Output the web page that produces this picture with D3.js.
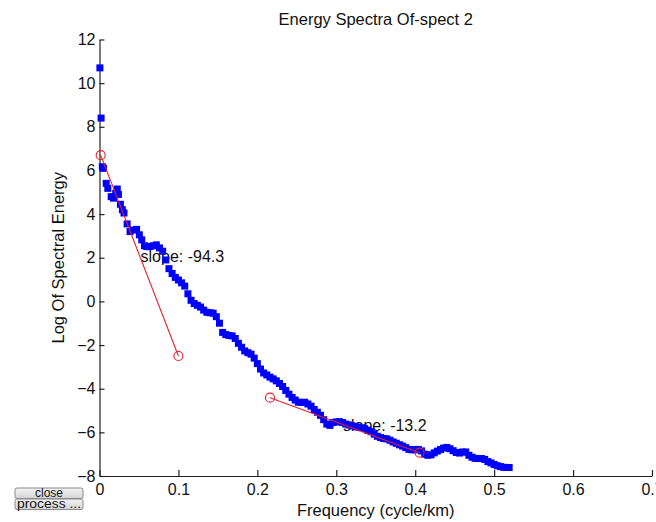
<!DOCTYPE html>
<html>
<head>
<meta charset="utf-8">
<script src="https://cdn.jsdelivr.net/npm/d3@7/dist/d3.min.js"></script>
<style>
  html, body { margin: 0; padding: 0; background: #ffffff; }
  svg { display: block; }
  text { font-family: "Liberation Sans", Arial, sans-serif; }
</style>
</head>
<body>
<svg id="chart" width="656" height="522"></svg>
<script>
// ---- data ----
const freq = [
  0.0005, 0.002, 0.0036, 0.005, 0.0085, 0.0105, 0.0148, 0.0178, 0.0205, 0.0225,
  0.024, 0.0265, 0.029, 0.031, 0.035, 0.0387, 0.043, 0.047, 0.0505, 0.0535, 0.057,
  0.060, 0.064, 0.068, 0.072, 0.076, 0.080, 0.084, 0.088, 0.092, 0.096,
  0.100, 0.104, 0.108, 0.112, 0.116, 0.120, 0.124, 0.128, 0.132, 0.136,
  0.140, 0.144, 0.148, 0.152, 0.156, 0.160, 0.164, 0.168, 0.172, 0.176,
  0.180, 0.184, 0.188, 0.192, 0.196, 0.200, 0.204, 0.208, 0.212, 0.216,
  0.220, 0.224, 0.228, 0.232, 0.236, 0.240, 0.244, 0.248, 0.252, 0.256,
  0.260, 0.264, 0.268, 0.272, 0.276, 0.280, 0.284, 0.288, 0.292, 0.296,
  0.300, 0.304, 0.308, 0.312, 0.316, 0.320, 0.324, 0.328, 0.332, 0.336,
  0.340, 0.344, 0.348, 0.352, 0.356, 0.360, 0.364, 0.368, 0.372, 0.376,
  0.380, 0.384, 0.388, 0.392, 0.396, 0.400, 0.404, 0.408, 0.412, 0.416,
  0.420, 0.424, 0.428, 0.432, 0.436, 0.440, 0.444, 0.448, 0.452, 0.456,
  0.460, 0.464, 0.468, 0.472, 0.476, 0.480, 0.484, 0.488, 0.492, 0.496,
  0.500, 0.504, 0.508, 0.512, 0.516, 0.519
];
const logEnergy = [
  10.7, 8.4, 6.17, 6.1, 5.41, 5.18, 4.8, 4.73, 4.95, 5.15,
  4.9, 4.45, 4.2, 4.05, 3.55, 3.2, 3.27, 3.3, 3.05, 2.82, 2.55,
  2.51, 2.51, 2.55, 2.59, 2.45, 2.3, 1.9, 1.5, 1.28, 1.1,
  0.98, 0.85, 0.7, 0.35, 0.05, -0.1, -0.18, -0.26, -0.4, -0.5,
  -0.52, -0.54, -0.7, -1.0, -1.42, -1.52, -1.56, -1.58, -1.7, -1.92,
  -2.1, -2.27, -2.35, -2.42, -2.6, -2.85, -3.1, -3.28, -3.37, -3.47,
  -3.55, -3.64, -3.76, -3.9, -4.08, -4.25, -4.4, -4.52, -4.62, -4.63,
  -4.62, -4.7, -4.8, -4.95, -5.08, -5.22, -5.42, -5.62, -5.68, -5.55,
  -5.52, -5.51, -5.55, -5.62, -5.66, -5.7, -5.74, -5.76, -5.79, -5.83,
  -5.9, -5.97, -6.08, -6.18, -6.24, -6.28, -6.3, -6.36, -6.44, -6.5,
  -6.57, -6.63, -6.7, -6.78, -6.8, -6.8, -6.78, -6.85, -7.0, -7.05,
  -7.03, -6.94, -6.86, -6.79, -6.72, -6.69, -6.75, -6.84, -6.92, -6.95,
  -6.9, -6.9, -7.05, -7.14, -7.19, -7.2, -7.2, -7.24, -7.34, -7.4,
  -7.47, -7.53, -7.57, -7.6, -7.61, -7.61
];
// fitted slope segments: [f0, f1] and [v0, v1]
const fitFreq   = [[0.0015, 0.100], [0.216, 0.4055]];
const fitEnergy = [[6.7, -2.5], [-4.41, -6.93]];
const slopeLabels = ["slope: -94.3", "slope: -13.2"];
const slopeLabelFreq = [0.052, 0.3085];
const slopeLabelEnergy = [2.08, -5.66];
const xTicks = [0, 0.1, 0.2, 0.3, 0.4, 0.5, 0.6, 0.7];
const yTicks = [-8, -6, -4, -2, 0, 2, 4, 6, 8, 10, 12];
const title = "Energy Spectra Of-spect 2";
const xLabel = "Frequency (cycle/km)";
const yLabel = "Log Of Spectral Energy";
const buttons = ["close", "process ..."];

// ---- layout ----
const svg = d3.select("#chart");
const mLeft = 99.5, mRight = 652, mTop = 39.5, mBottom = 476;
const x = d3.scaleLinear().domain([0, 0.7]).range([mLeft, mRight]);
const y = d3.scaleLinear().domain([-8, 12]).range([mBottom, mTop]);
const axisColor = "#222";

// axes
const gx = svg.append("g").attr("transform", `translate(0,${mBottom})`)
  .call(d3.axisBottom(x).tickValues(xTicks).tickFormat(d => d === 0 ? "0" : d3.format(".1f")(d))
    .tickSizeInner(-6).tickSizeOuter(0).tickPadding(8));
const gy = svg.append("g").attr("transform", `translate(${mLeft},0)`)
  .call(d3.axisLeft(y).tickValues(yTicks).tickFormat(d3.format("d"))
    .tickSizeInner(-5).tickSizeOuter(0).tickPadding(4));
[gx, gy].forEach(g => {
  g.select(".domain").attr("stroke", axisColor).attr("stroke-width", 1.2);
  g.selectAll(".tick line").attr("stroke", axisColor).attr("stroke-width", 1.2);
  g.selectAll(".tick text").attr("fill", "#111").style("font-size", "16px")
    .style("font-family", '"Liberation Sans", Arial, sans-serif');
});

// title and axis labels
svg.append("text").attr("x", (mLeft + mRight) / 2).attr("y", 25)
  .attr("text-anchor", "middle").style("font-size", "16.5px").attr("fill", "#111").text(title);
svg.append("text").attr("x", (mLeft + mRight) / 2).attr("y", 516)
  .attr("text-anchor", "middle").style("font-size", "16.5px").attr("fill", "#111").text(xLabel);
svg.append("text").attr("transform", `translate(64,${(mTop + mBottom) / 2}) rotate(-90)`)
  .attr("text-anchor", "middle").style("font-size", "16.5px").attr("fill", "#111").text(yLabel);

// slope labels (under the data)
svg.append("g").selectAll("text").data(slopeLabels).join("text")
  .attr("x", (d, i) => x(slopeLabelFreq[i]))
  .attr("y", (d, i) => y(slopeLabelEnergy[i]))
  .attr("dy", "0.36em")
  .style("font-size", "16px").attr("fill", "#111").text(d => d);

// spectrum markers
const ms = 7;
svg.append("g").selectAll("rect").data(freq).join("rect")
  .attr("x", (d) => x(d) - ms / 2)
  .attr("y", (d, i) => y(logEnergy[i]) - ms / 2)
  .attr("width", ms).attr("height", ms)
  .attr("fill", "#0000ff");

// fitted segments
const red = "#e3202c";
const fits = svg.append("g");
fitFreq.forEach((fs, i) => {
  const es = fitEnergy[i];
  fits.append("line")
    .attr("x1", x(fs[0])).attr("y1", y(es[0]))
    .attr("x2", x(fs[1])).attr("y2", y(es[1]))
    .attr("stroke", red).attr("stroke-width", 1.1);
  fs.forEach((f, j) => {
    fits.append("circle").attr("cx", x(f)).attr("cy", y(es[j])).attr("r", 4.5)
      .attr("fill", "none").attr("stroke", red).attr("stroke-width", 1.1);
  });
});

// GUI buttons
const defs = svg.append("defs");
const grad = defs.append("linearGradient").attr("id", "btn")
  .attr("x1", 0).attr("y1", 0).attr("x2", 0).attr("y2", 1);
grad.append("stop").attr("offset", "0%").attr("stop-color", "#f4f4f4");
grad.append("stop").attr("offset", "100%").attr("stop-color", "#d4d4d4");
const bg = svg.append("g");
buttons.forEach((b, i) => {
  const by = 488 + i * 11;
  bg.append("rect").attr("x", 15).attr("y", by).attr("width", 68).attr("height", 10.5)
    .attr("rx", 2).attr("fill", "url(#btn)").attr("stroke", "#8a8a8a").attr("stroke-width", 1);
  const t = bg.append("text").attr("x", 49).attr("y", by + 9)
    .attr("text-anchor", "middle").style("font-size", "12px").attr("fill", "#111").text(b);
  if (i === 1) t.attr("textLength", 64).attr("lengthAdjust", "spacingAndGlyphs");
});
</script>
</body>
</html>
